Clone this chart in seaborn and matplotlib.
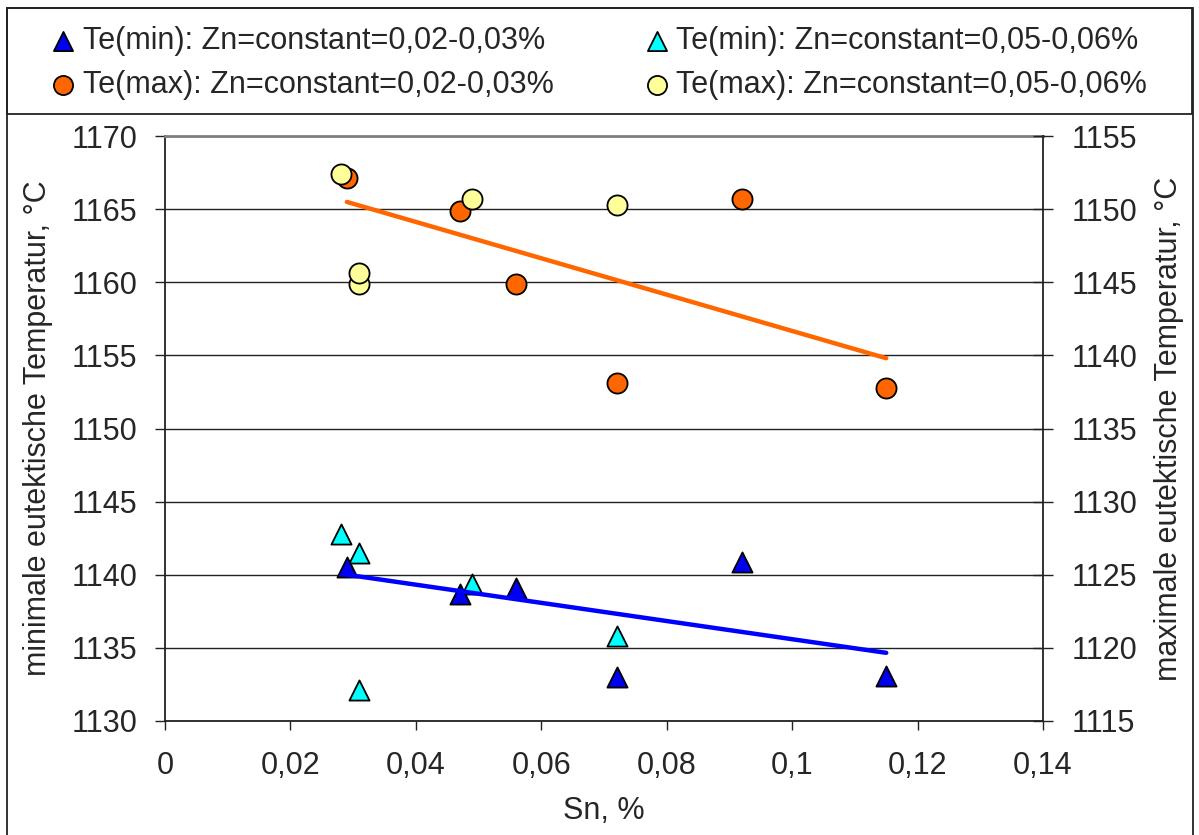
import numpy as np
import pandas as pd
import seaborn as sns
import matplotlib
matplotlib.use("Agg")
import matplotlib.pyplot as plt
from matplotlib.patches import Rectangle
from matplotlib.ticker import FuncFormatter

# Sn content (%) for the two Zn levels
sn_zn_low = [0.029, 0.047, 0.056, 0.072, 0.092, 0.115]
sn_zn_high = [0.028, 0.031, 0.031, 0.049, 0.072]

# minimum eutectic temperature (left axis), °C
te_min_zn_low = [1140.5, 1138.7, 1139.1, 1133.0, 1140.9, 1133.1]
te_min_zn_high = [1142.8, 1141.5, 1132.1, 1139.4, 1135.8]

# maximum eutectic temperature (right axis), °C
te_max_zn_low = [1152.1, 1149.9, 1144.9, 1138.1, 1150.7, 1137.8]
te_max_zn_high = [1152.4, 1144.9, 1145.6, 1150.7, 1150.3]

labels = [
    "Te(min): Zn=constant=0,02-0,03%",
    "Te(max): Zn=constant=0,02-0,03%",
    "Te(min): Zn=constant=0,05-0,06%",
    "Te(max): Zn=constant=0,05-0,06%",
]

x_ticks = [0, 0.02, 0.04, 0.06, 0.08, 0.10, 0.12, 0.14]
left_ticks = list(range(1130, 1171, 5))
right_ticks = list(range(1115, 1156, 5))

FS = 22

sns.set_style("white")
plt.rcParams["font.family"] = ["Liberation Sans", "DejaVu Sans"]
plt.rcParams["font.size"] = FS

W, H = 1199, 835
fig = plt.figure(figsize=(W / 100, H / 100), dpi=100)
ax = fig.add_axes([165 / W, 1 - 721 / H, (1043 - 165) / W, (721 - 136) / H])
ax2 = ax.twinx()

df_low = pd.DataFrame({"sn": sn_zn_low, "tmin": te_min_zn_low, "tmax": te_max_zn_low})
df_high = pd.DataFrame({"sn": sn_zn_high, "tmin": te_min_zn_high, "tmax": te_max_zn_high})

mk = dict(s=210, edgecolor="black", linewidth=1.3)

# minimum temperatures: triangles on the left axis
sns.scatterplot(data=df_high, x="sn", y="tmin", ax=ax, marker="^",
                color="#00FFFF", label=labels[2], zorder=3, **mk)
sns.scatterplot(data=df_low, x="sn", y="tmin", ax=ax, marker="^",
                color="#0000F0", label=labels[0], zorder=4, **mk)
sns.regplot(data=df_low, x="sn", y="tmin", ax=ax, scatter=False, ci=None,
            truncate=True, line_kws=dict(color="#0000FF", lw=3.2, zorder=5))

# maximum temperatures: circles on the right axis
sns.scatterplot(data=df_low, x="sn", y="tmax", ax=ax2, marker="o",
                color="#FF6600", label=labels[1], zorder=3, **mk)
sns.scatterplot(data=df_high, x="sn", y="tmax", ax=ax2, marker="o",
                color="#FFFF99", label=labels[3], zorder=4, **mk)
sns.regplot(data=df_low, x="sn", y="tmax", ax=ax2, scatter=False, ci=None,
            truncate=True, line_kws=dict(color="#FF6600", lw=3.2, zorder=2))

h1, l1 = ax.get_legend_handles_labels()
h2, l2 = ax2.get_legend_handles_labels()
hmap = dict(zip(l1 + l2, h1 + h2))
for a in (ax, ax2):
    if a.get_legend() is not None:
        a.get_legend().remove()

# axes ranges and ticks
ax.set_xlim(0, 0.14)
ax.set_ylim(1130, 1170)
ax2.set_ylim(1115, 1155)
ax.set_xticks(x_ticks)
ax.set_yticks(left_ticks)
ax2.set_yticks(right_ticks)
comma = FuncFormatter(lambda v, _: ("%g" % round(v, 2)).replace(".", ","))
ax.xaxis.set_major_formatter(comma)

ax.yaxis.grid(True, color="#222222", lw=1.0)
ax.xaxis.grid(False)
ax2.grid(False)
ax.set_axisbelow(True)

for s in ("left", "bottom"):
    ax.spines[s].set_color("#222222")
    ax.spines[s].set_linewidth(1.3)
ax.spines["right"].set_visible(False)
ax.spines["top"].set_color("#808080")
ax.spines["top"].set_linewidth(2)
for s in ("left", "bottom", "top"):
    ax2.spines[s].set_visible(False)
ax2.spines["right"].set_color("#222222")
ax2.spines["right"].set_linewidth(1.3)

ax.tick_params(axis="y", which="major", left=True, direction="out", length=7,
               width=1, color="#222222", pad=13, labelsize=FS)
ax.tick_params(axis="x", which="major", bottom=True, direction="out", length=6.5,
               width=1, color="#222222", pad=15, labelsize=FS)
ax2.tick_params(axis="y", which="major", right=True, direction="inout", length=15,
                width=1, color="#222222", pad=13, labelsize=FS)

ax.set_xlabel("Sn, %", fontsize=FS, labelpad=11)
ax.set_ylabel("minimale eutektische Temperatur, °C", fontsize=FS, labelpad=13)
ax2.set_ylabel("maximale eutektische Temperatur, °C", fontsize=FS, labelpad=12)

# legend across the top in its own box
order = [labels[0], labels[1], labels[2], labels[3]]
fig.legend([hmap[k] for k in order], order, loc="center",
           bbox_to_anchor=(600 / W, 1 - 63 / H), ncol=2, frameon=False,
           fontsize=FS, handlelength=0.7, handletextpad=0.3,
           columnspacing=3.0, labelspacing=0.45, markerscale=0.95)

fig.add_artist(Rectangle((7 / W, 1 - 114 / H), (1192 - 7) / W, (114 - 8) / H,
                         transform=fig.transFigure, fill=False,
                         edgecolor="#222222", lw=1.3))
fig.add_artist(Rectangle((7 / W, -0.05), (1193 - 7) / W, 1.05 - 8 / H,
                         transform=fig.transFigure, fill=False,
                         edgecolor="#222222", lw=1.3))

fig.savefig("out.png", dpi=100)
